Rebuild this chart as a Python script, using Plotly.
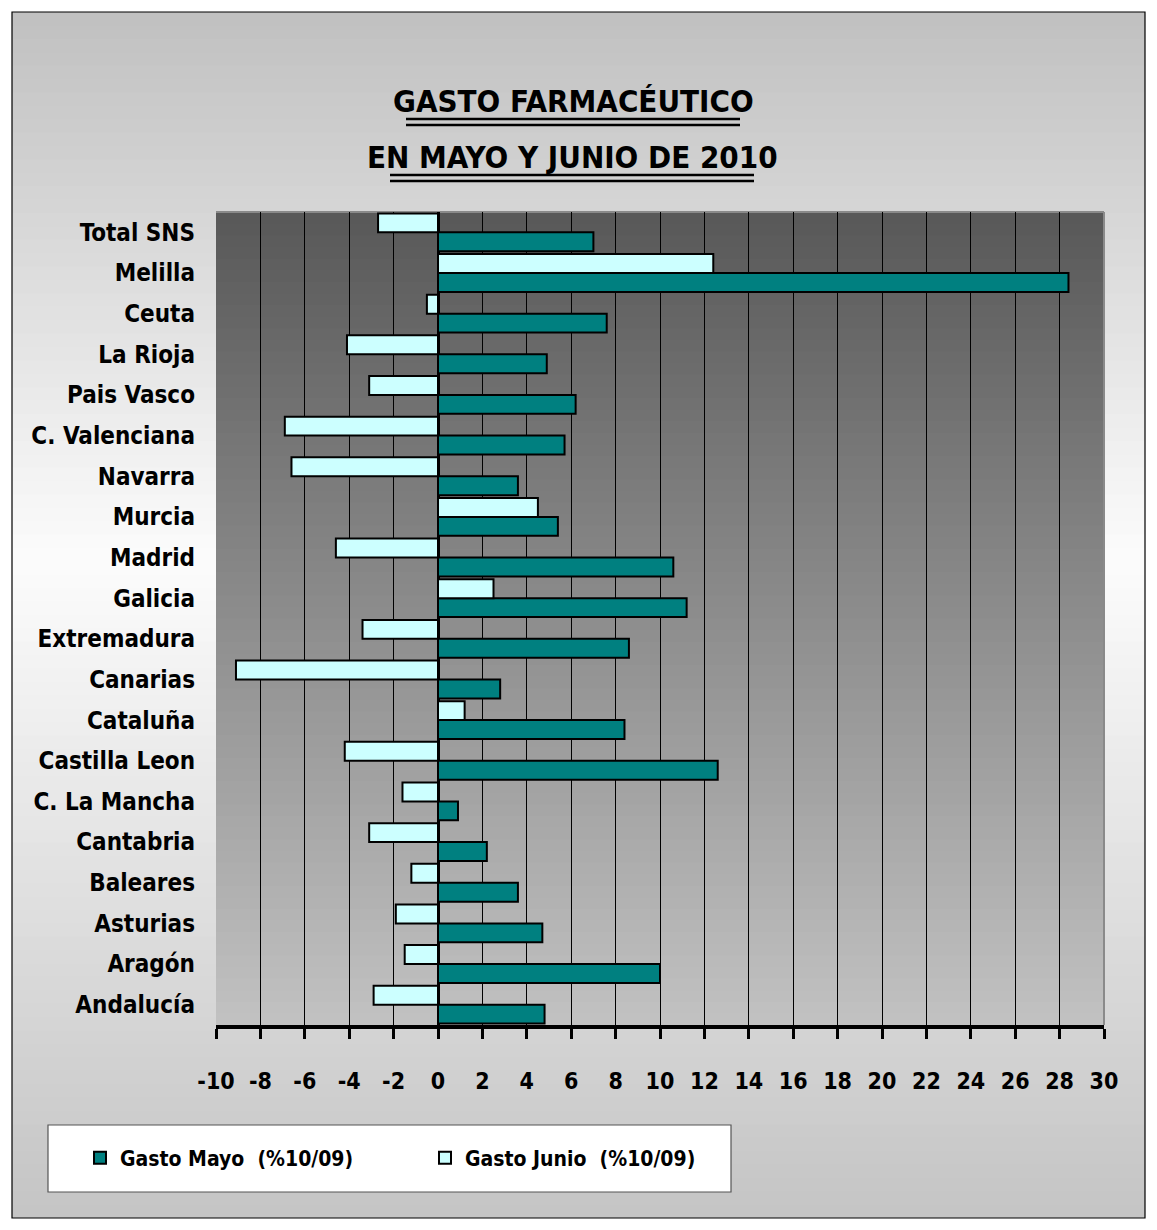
import plotly.graph_objects as go

categories = ["Andalucía", "Aragón", "Asturias", "Baleares", "Cantabria", "C. La Mancha",
              "Castilla Leon", "Cataluña", "Canarias", "Extremadura", "Galicia", "Madrid",
              "Murcia", "Navarra", "C. Valenciana", "Pais Vasco", "La Rioja", "Ceuta",
              "Melilla", "Total SNS"]
gasto_mayo = [4.8, 10.0, 4.7, 3.6, 2.2, 0.9, 12.6, 8.4, 2.8, 8.6, 11.2, 10.6,
              5.4, 3.6, 5.7, 6.2, 4.9, 7.6, 28.4, 7.0]
gasto_junio = [-2.9, -1.5, -1.9, -1.2, -3.1, -1.6, -4.2, 1.2, -9.1, -3.4, 2.5, -4.6,
               4.5, -6.6, -6.9, -3.1, -4.1, -0.5, 12.4, -2.7]
tick_vals = list(range(-10, 31, 2))
tick_text = [str(v) for v in tick_vals]

OFF = 8  # page body margin
W, H = 1157, 1230
L, R, T, B = 216, 1104, 212, 1025
PW, PH = R - L, B - T

def px(x):
    return (x - L) / PW

def py(y):
    return (B - y) / PH

FONT = "DejaVu Sans Condensed, Liberation Sans Narrow, Arial Narrow, sans-serif"

shapes = []
# outer background vertical gradient
n = 90
y0p, y1p = 12, 1218
for i in range(n):
    ya = y0p + (y1p - y0p) * i / n
    yb = y0p + (y1p - y0p) * (i + 1) / n
    ym = (ya + yb) / 2
    peak = 560
    if ym < peak:
        v = 192 + (252 - 192) * (ym - y0p) / (peak - y0p)
    else:
        v = 252 - (252 - 196) * (ym - peak) / (y1p - peak)
    c = int(round(v))
    shapes.append(dict(type="rect", xref="paper", yref="paper", layer="below",
                       x0=px(12), x1=px(1145), y0=py(min(yb + 1, y1p)), y1=py(ya),
                       fillcolor=f"rgb({c},{c},{c})", line=dict(width=0)))
# plot area gradient
m = 70
for i in range(m):
    ya = T + PH * i / m
    yb = T + PH * (i + 1) / m
    ym = (ya + yb) / 2
    v = 88 + (194 - 88) * (ym - T) / PH
    c = int(round(v))
    shapes.append(dict(type="rect", xref="paper", yref="paper", layer="below",
                       x0=0, x1=1, y0=py(min(yb + 1, B)), y1=py(ya),
                       fillcolor=f"rgb({c},{c},{c})", line=dict(width=0)))
# plot border (top / right light)
shapes.append(dict(type="line", xref="paper", yref="paper", x0=0, x1=1, y0=1, y1=1,
                   line=dict(color="#8a8a8a", width=2), layer="below"))
shapes.append(dict(type="line", xref="paper", yref="paper", x0=1, x1=1, y0=0, y1=1,
                   line=dict(color="#8a8a8a", width=2), layer="below"))
# outer frame
shapes.append(dict(type="rect", xref="paper", yref="paper", x0=px(12), x1=px(1145),
                   y0=py(1218), y1=py(12), line=dict(color="black", width=1.2),
                   fillcolor="rgba(0,0,0,0)", layer="above"))
# legend box
shapes.append(dict(type="rect", xref="paper", yref="paper", x0=px(48), x1=px(731),
                   y0=py(1192), y1=py(1125), line=dict(color="#555555", width=1.2),
                   fillcolor="white", layer="above"))
# double underline under title lines
for (xa, xb, ys) in [(406, 740, (119, 125)), (390, 754, (175, 181))]:
    for yy in ys:
        shapes.append(dict(type="line", xref="paper", yref="paper", x0=px(xa), x1=px(xb),
                           y0=py(yy), y1=py(yy), line=dict(color="black", width=2.5)))

fig = go.Figure()
fig.add_trace(go.Bar(y=categories, x=gasto_mayo, orientation="h",
                     name="Gasto Mayo\u00a0 (%10/09)",
                     marker=dict(color="#008080", line=dict(color="black", width=2))))
fig.add_trace(go.Bar(y=categories, x=gasto_junio, orientation="h",
                     name="Gasto Junio\u00a0 (%10/09)",
                     marker=dict(color="#ccffff", line=dict(color="black", width=2))))

annotations = [
    dict(text="GASTO FARMACÉUTICO", xref="paper", yref="paper",
         x=px(573), y=py(101), xanchor="center", yanchor="middle", showarrow=False,
         font=dict(family=FONT, size=31, color="black", weight="bold")),
    dict(text="EN MAYO Y JUNIO DE 2010", xref="paper", yref="paper",
         x=px(572), y=py(157), xanchor="center", yanchor="middle", showarrow=False,
         font=dict(family=FONT, size=31, color="black", weight="bold")),
]

fig.update_layout(
    width=W - OFF, height=H - OFF,
    margin=dict(l=L - OFF, r=W - R, t=T - OFF, b=H - B, pad=0),
    paper_bgcolor="white",
    plot_bgcolor="rgba(0,0,0,0)",
    barmode="group", bargap=0.07, bargroupgap=0.0,
    shapes=shapes, annotations=annotations,
    font=dict(family=FONT, color="black"),
    showlegend=True,
    legend=dict(orientation="h", x=px(80), y=py(1158), xanchor="left", yanchor="middle",
                bgcolor="rgba(0,0,0,0)", borderwidth=0,
                font=dict(family=FONT, size=21, color="black", weight="bold"),
                entrywidth=300, entrywidthmode="pixels", traceorder="normal",
                itemsizing="constant"),
    xaxis=dict(range=[-10, 30], tickvals=tick_vals, ticktext=tick_text,
               showgrid=True, gridcolor="black", gridwidth=1.3,
               zeroline=True, zerolinecolor="black", zerolinewidth=3,
               showline=True, linecolor="black", linewidth=4,
               ticks="outside", ticklen=10, tickwidth=3, tickcolor="black",
               ticklabelstandoff=22,
               tickfont=dict(family=FONT, size=23, color="black", weight="bold"),
               fixedrange=True),
    yaxis=dict(categoryorder="array", categoryarray=categories, showgrid=False,
               zeroline=False, showline=False, ticks="", ticklabelstandoff=20,
               tickfont=dict(family=FONT, size=24, color="black", weight="bold"),
               fixedrange=True),
)
fig.write_html("out.html")
